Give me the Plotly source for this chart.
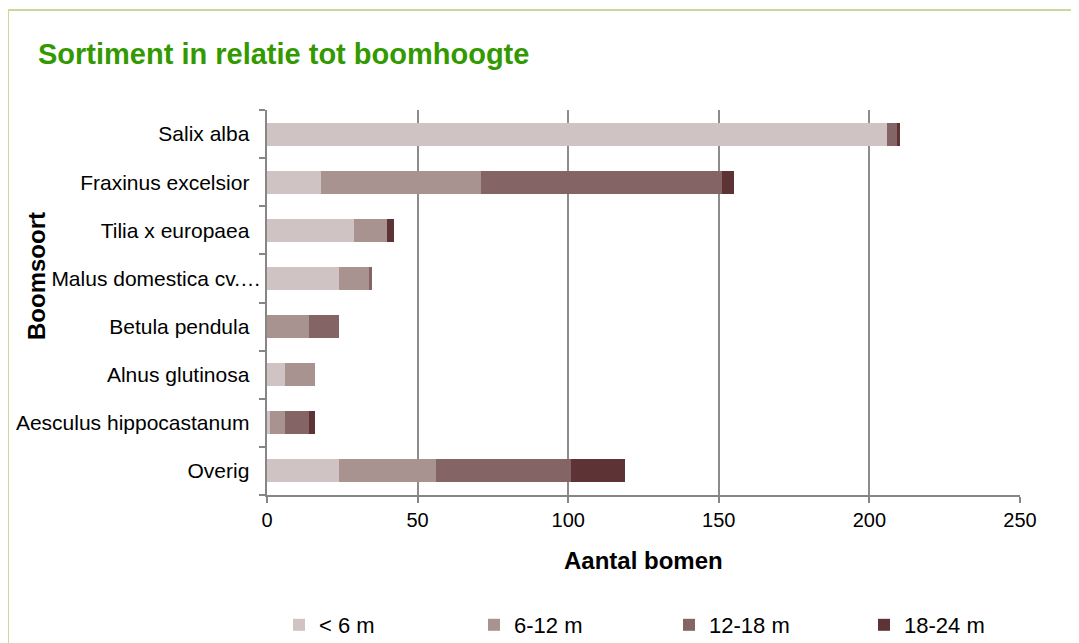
import plotly.graph_objects as go

categories = ["Salix alba", "Fraxinus excelsior", "Tilia x europaea", "Malus domestica cv.…",
              "Betula pendula", "Alnus glutinosa", "Aesculus hippocastanum", "Overig"]
series_names = ["< 6 m", "6-12 m", "12-18 m", "18-24 m"]
lt6 = [206, 18, 29, 24, 0, 6, 1, 24]
h6_12 = [0, 53, 11, 10, 14, 10, 5, 32]
h12_18 = [3, 80, 0, 1, 10, 0, 8, 45]
h18_24 = [1, 4, 2, 0, 0, 0, 2, 18]
x_ticks = [0, 50, 100, 150, 200, 250]

colors = ["#D0C3C4", "#A99391", "#856466", "#5E3336"]
OFF = 8  # default page body margin
W, H = 1079 - OFF, 643 - OFF
L, R, T = 267 - OFF, 59, 110 - OFF
B = H - (495 - OFF)
pw, ph = W - L - R, H - T - B
Y0 = 495  # screen y of plot bottom


def px(sx):
    return (sx - OFF - L) / pw


def py(sy):
    return (Y0 - sy) / ph


# truncated label runs right up to the axis, others keep a small gap
tick_text = [c if c.endswith("…") else c + "  " for c in categories]

fig = go.Figure()
for name, vals, c in zip(series_names, [lt6, h6_12, h12_18, h18_24], colors):
    fig.add_trace(go.Bar(y=categories, x=vals, name=name, orientation="h",
                         marker=dict(color=c, line=dict(width=0))))

font = "Arial, Liberation Sans, sans-serif"
fig.update_layout(
    width=W, height=H, barmode="stack", bargap=0.52,
    margin=dict(l=L, r=R, t=T, b=B, pad=0, autoexpand=False),
    paper_bgcolor="white", plot_bgcolor="white",
    font=dict(family=font, size=21, color="#000000"),
    showlegend=True,
    legend=dict(orientation="h", x=px(283 + 776), xanchor="right", y=py(625),
                yanchor="middle", traceorder="normal", entrywidth=150, entrywidthmode="pixels",
                font=dict(size=22), itemwidth=30, bgcolor="rgba(0,0,0,0)"),
    xaxis=dict(range=[0, 250], tickvals=x_ticks, showgrid=True, gridcolor="#8C8C8C", gridwidth=1.5,
               showline=True, linecolor="#868686", linewidth=1.5, ticks="outside", ticklen=6,
               tickcolor="#868686", tickwidth=1.5, zeroline=False, tickfont=dict(size=20),
               automargin=False),
    yaxis=dict(autorange="reversed", type="category", showline=True, linecolor="#868686", linewidth=1.5,
               ticks="outside", ticklen=6, tickcolor="#868686", tickwidth=1.5, tickson="boundaries",
               tickvals=categories, ticktext=tick_text,
               showgrid=False, tickfont=dict(size=21), automargin=False),
    annotations=[
        dict(text="<b>Sortiment in relatie tot boomhoogte</b>", xref="paper", yref="paper",
             x=px(36), y=py(54), xanchor="left", yanchor="middle", showarrow=False,
             font=dict(size=29, color="#339900", family=font)),
        dict(text="<b>Aantal bomen</b>", xref="paper", yref="paper",
             x=px(643), y=py(560), xanchor="center", yanchor="middle", showarrow=False,
             font=dict(size=24, color="#000000", family=font)),
        dict(text="<b>Boomsoort</b>", xref="paper", yref="paper", textangle=-90,
             x=px(36), y=py(276), xanchor="center", yanchor="middle", showarrow=False,
             font=dict(size=24, color="#000000", family=font)),
    ],
    shapes=[dict(type="rect", xref="paper", yref="paper",
                 x0=px(8), x1=px(1100), y0=py(700), y1=py(10),
                 line=dict(color="#C6DA9E", width=2), layer="below")],
)

fig.write_html("out.html")
